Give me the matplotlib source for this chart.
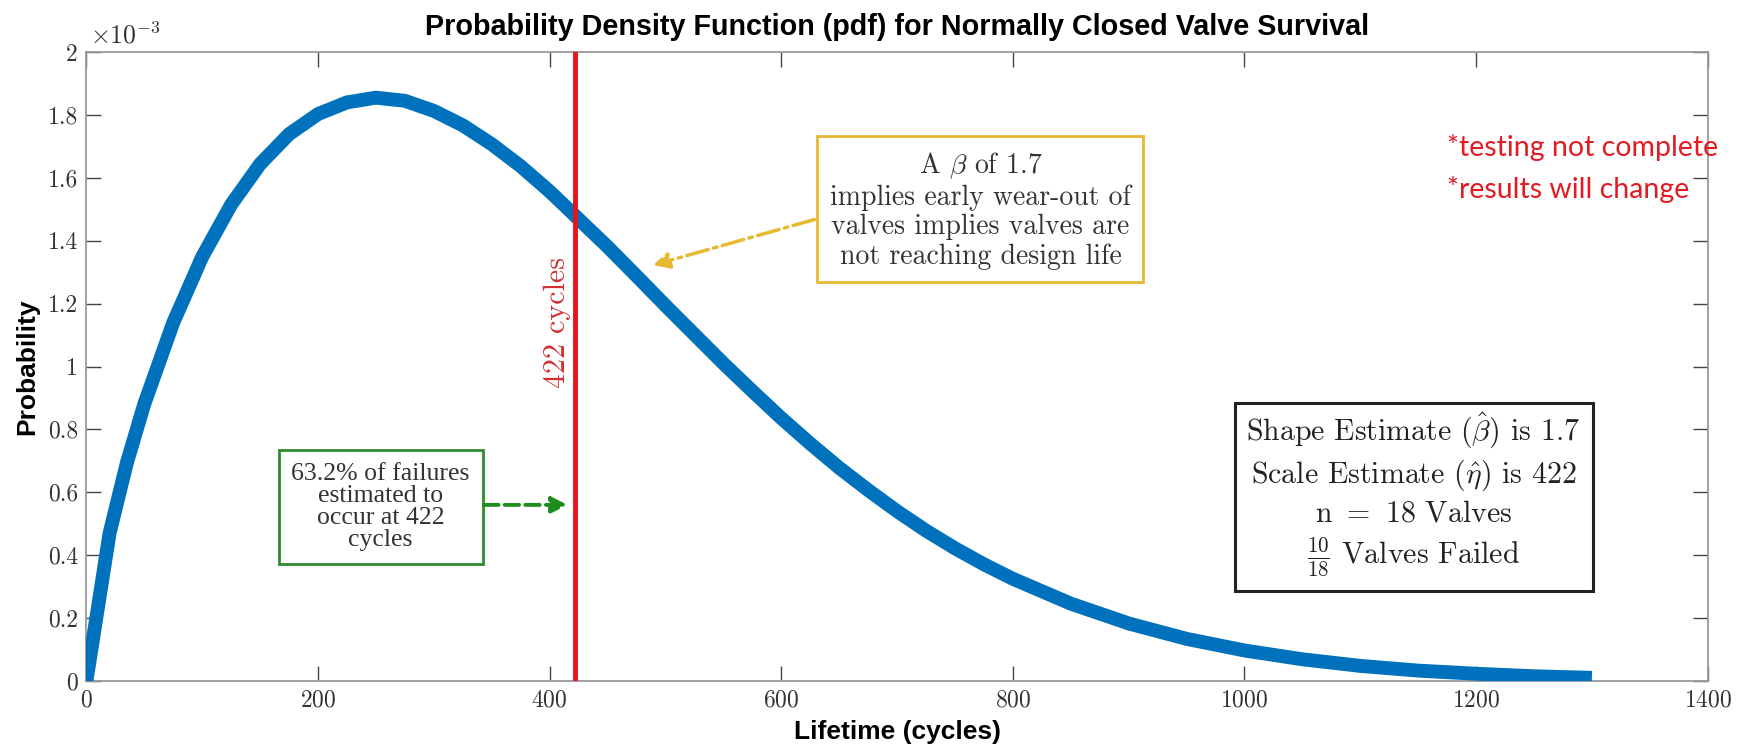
import numpy as np
import matplotlib
matplotlib.use("Agg")
import matplotlib.pyplot as plt
from matplotlib.ticker import FormatStrFormatter

plt.rcParams['mathtext.fontset'] = 'cm'
plt.rcParams['axes.formatter.use_mathtext'] = True

# pdf (units of 1e-3)
cycles = [0, 20, 35, 50, 75, 100, 125, 150, 175, 200, 225, 250, 275, 300, 325, 350,
          375, 400, 450, 475, 500, 525, 550, 575, 600, 625, 650, 675, 700, 725, 750,
          775, 800, 850, 900, 950, 1000, 1050, 1100, 1150, 1200, 1250, 1300]
prob = [0.0, 0.47, 0.695, 0.881, 1.140, 1.349, 1.515, 1.644, 1.739, 1.803, 1.840,
        1.855, 1.845, 1.813, 1.767, 1.707, 1.637, 1.557, 1.381, 1.288, 1.194, 1.102,
        1.010, 0.922, 0.836, 0.755, 0.678, 0.607, 0.540, 0.478, 0.422, 0.371, 0.325,
        0.246, 0.183, 0.134, 0.097, 0.069, 0.048, 0.033, 0.023, 0.015, 0.010]
scale_est = 422
xticks = [0, 200, 400, 600, 800, 1000, 1200, 1400]
yticks = [0, 0.2, 0.4, 0.6, 0.8, 1.0, 1.2, 1.4, 1.6, 1.8, 2.0]

fig = plt.figure(figsize=(17.39, 7.44), dpi=100)
ax = fig.add_axes([0.0497, 0.0847, 0.9323, 0.8453])

ax.plot(cycles, prob, color='#0072BD', lw=10, solid_capstyle='butt',
        solid_joinstyle='round', zorder=3)
ax.axvline(scale_est, color='#E8141A', lw=3.5, zorder=4)

ax.set_xlim(0, 1400)
ax.set_ylim(0, 2)
ax.set_xticks(xticks)
ax.set_yticks(yticks)
ax.yaxis.set_major_formatter(FormatStrFormatter('%g'))
ax.tick_params(direction='in', top=True, right=True, length=11, width=1,
               color='#444444', labelsize=17, pad=6)
for lab in ax.get_xticklabels() + ax.get_yticklabels():
    lab.set_fontfamily('cmr10')
    lab.set_color('#333333')
for sp in ax.spines.values():
    sp.set_color('#999999')
    sp.set_linewidth(1.3)

ax.set_title('Probability Density Function (pdf) for Normally Closed Valve Survival',
             fontfamily='Liberation Sans', fontweight='bold', fontsize=20.7, pad=12)
ax.set_xlabel('Lifetime (cycles)', fontfamily='Liberation Sans', fontweight='bold',
              fontsize=19, labelpad=6)
ax.set_ylabel('Probability', fontfamily='Liberation Sans', fontweight='bold',
              fontsize=19, labelpad=6)
ax.text(0.002, 1.004, r'$\times10^{-3}$', transform=ax.transAxes, fontsize=18.5,
        color='#333333', va='bottom', ha='left')

# red label on the line
ax.text(407, 1.14, '422 cycles', rotation=90, color='#D03030', fontfamily='cmr10',
        fontsize=21.5, ha='center', va='center')

# yellow annotation
ax.annotate('', xy=(487, 1.32), xytext=(631, 1.47),
            arrowprops=dict(arrowstyle='-|>', color='#E8B830', lw=2.5,
                            linestyle='-.', mutation_scale=24), zorder=5)
ax.text(772, 1.497, 'A $\\beta$ of 1.7\nimplies early wear-out of\nvalves implies valves are\nnot reaching design life',
        fontfamily='cmr10', fontsize=20, ha='center', va='center', color='#333333',
        linespacing=1.15,
        bbox=dict(boxstyle='square,pad=0.45', fc='white', ec='#E8B830', lw=2))

# green annotation
ax.annotate('', xy=(418, 0.56), xytext=(341, 0.56),
            arrowprops=dict(arrowstyle='-|>', color='#1E8C1E', lw=2.8,
                            linestyle='--', mutation_scale=24), zorder=5)
ax.text(254, 0.554, '63.2% of failures\nestimated to\noccur at 422\ncycles',
        fontfamily='Liberation Serif', fontsize=18.5, ha='center', va='center',
        color='#333333', linespacing=1.0,
        bbox=dict(boxstyle='square,pad=0.5', fc='white', ec='#2E8B2E', lw=2))

# summary box
ax.text(1146, 0.593,
        'Shape Estimate $(\\hat{\\beta})$ is 1.7\nScale Estimate $(\\hat{\\eta})$ is 422\n'
        'n $=$ 18 Valves\n$\\frac{10}{18}$ Valves Failed',
        fontfamily='cmr10', fontsize=21.5, ha='center', va='center', color='#222222',
        linespacing=1.3,
        bbox=dict(boxstyle='square,pad=0.4', fc='white', ec='#222222', lw=2.2))

# warning note
ax.text(0.8395, 0.815, '*testing not complete\n*results will change',
        transform=ax.transAxes, fontfamily='Lato', fontsize=20.5, color='#E41A22',
        ha='left', va='center', linespacing=1.7)

fig.savefig('out.png', dpi=100)
